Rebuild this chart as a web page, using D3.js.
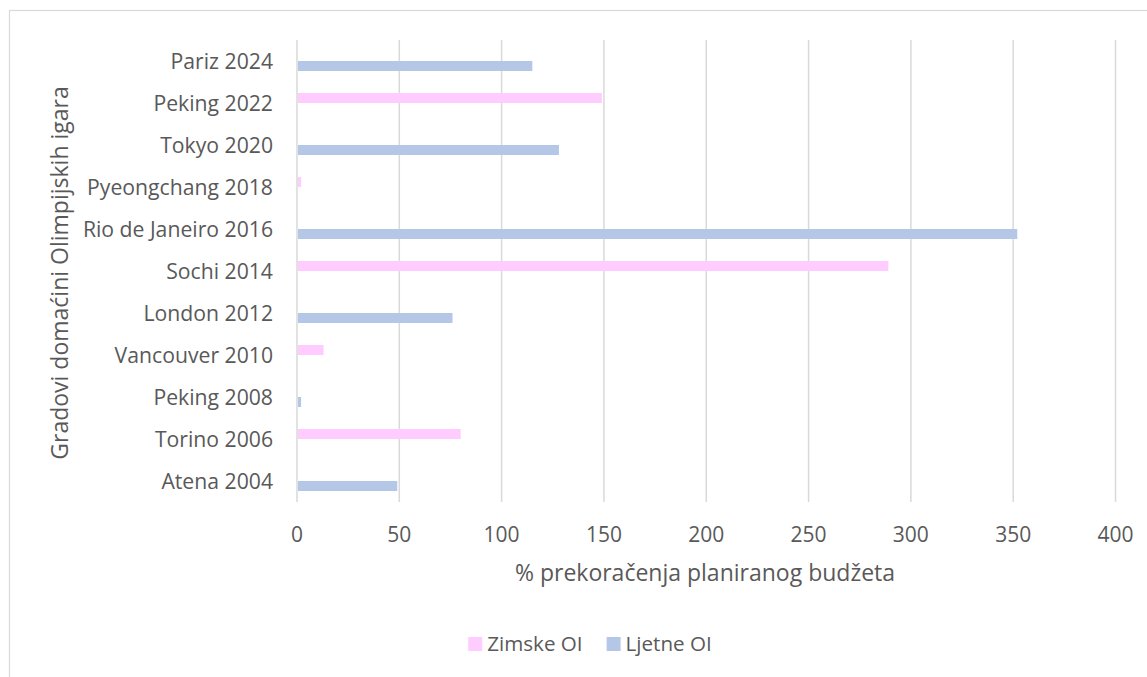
<!DOCTYPE html>
<html>
<head>
<meta charset="utf-8">
<script src="https://cdn.jsdelivr.net/npm/d3@7"></script>
<style>
  html, body { margin: 0; padding: 0; background: #fff; }
  svg text { font-family: "Open Sans", "Noto Sans", sans-serif; fill: #595959; }
</style>
</head>
<body>
<svg id="chart" width="1147" height="677"></svg>
<script>
// Data (top to bottom as shown)
const categories = ["Pariz 2024", "Peking 2022", "Tokyo 2020", "Pyeongchang 2018", "Rio de Janeiro 2016",
  "Sochi 2014", "London 2012", "Vancouver 2010", "Peking 2008", "Torino 2006", "Atena 2004"];
const seriesNames = ["Zimske OI", "Ljetne OI"];
const zimskeValues = [null, 149, null, 2, null, 289, null, 13, null, 80, null];
const ljetneValues = [115, null, 128, null, 352, null, 76, null, 2, null, 49];
const xTicks = [0, 50, 100, 150, 200, 250, 300, 350, 400];
const colors = ["#FFCCFF", "#B4C7E7"];
const xTitle = "% prekoračenja planiranog budžeta";
const yTitle = "Gradovi domaćini Olimpijskih igara";

const svg = d3.select("#chart");
const W = 1147, H = 677;
const plot = { left: 297, right: 1115.5, top: 40, bottom: 502 };

// chart border
svg.append("rect").attr("x", 9.5).attr("y", 10.5).attr("width", W + 10).attr("height", H + 10)
  .attr("fill", "none").attr("stroke", "#d9d9d9").attr("stroke-width", 1.2);

const x = d3.scaleLinear().domain([0, 400]).range([plot.left, plot.right]);
const y = d3.scaleBand().domain(categories).range([plot.top, plot.bottom]).padding(0);
const barH = 10;
const ySub = d3.scaleBand().domain(seriesNames)
  .range([y.bandwidth() / 2 - barH, y.bandwidth() / 2 + barH]).padding(0);

// gridlines
svg.append("g").selectAll("line").data(xTicks).join("line")
  .attr("x1", d => x(d)).attr("x2", d => x(d))
  .attr("y1", plot.top).attr("y2", plot.bottom)
  .attr("stroke", "#d9d9d9").attr("stroke-width", 1.5);

// bars
const seriesData = [zimskeValues, ljetneValues];
seriesData.forEach((vals, si) => {
  const rows = categories.map((c, i) => ({ c, v: vals[i] })).filter(d => d.v != null);
  svg.append("g").selectAll("rect").data(rows).join("rect")
    .attr("x", x(0) + 1)
    .attr("y", d => y(d.c) + ySub(seriesNames[si]))
    .attr("width", d => Math.max(0, x(d.v) - x(0) - 1))
    .attr("height", ySub.bandwidth())
    .attr("fill", colors[si]);
});

// x tick labels
svg.append("g").selectAll("text").data(xTicks).join("text")
  .attr("x", d => x(d)).attr("y", 542)
  .attr("text-anchor", "middle").attr("font-size", 21)
  .text(d => d);

// y category labels
svg.append("g").selectAll("text").data(categories).join("text")
  .attr("x", 273).attr("y", d => y(d) + y.bandwidth() / 2)
  .attr("dy", "0.36em")
  .attr("text-anchor", "end").attr("font-size", 21.2)
  .text(d => d);

// axis titles
svg.append("text").attr("x", 705).attr("y", 581)
  .attr("text-anchor", "middle").attr("font-size", 23).text(xTitle);
svg.append("text")
  .attr("transform", `translate(68, ${(plot.top + plot.bottom) / 2 + 2}) rotate(-90)`)
  .attr("text-anchor", "middle").attr("font-size", 23).text(yTitle);

// legend
const legend = svg.append("g");
const items = legend.selectAll("g").data(seriesNames).join("g");
items.append("rect").attr("width", 14).attr("height", 14).attr("y", 637)
  .attr("fill", (d, i) => colors[i]);
items.append("text").attr("x", 19).attr("y", 651).attr("font-size", 20.6).text(d => d);
const widths = [];
items.each(function () { widths.push(d3.select(this).select("text").node().getComputedTextLength() + 19); });
const gap = 24;
const total = widths.reduce((a, b) => a + b, 0) + gap * (widths.length - 1);
let start = 590 - total / 2;
items.attr("transform", (d, i) => {
  const t = `translate(${start}, 0)`;
  start += widths[i] + gap;
  return t;
});
</script>
</body>
</html>
